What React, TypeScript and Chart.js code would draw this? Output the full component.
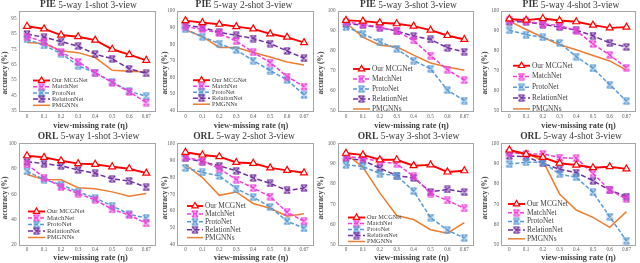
import React, { useEffect, useRef } from "react";
import { Chart, registerables } from "chart.js";

Chart.register(...registerables);

const FONT = '"Liberation Serif", "Times New Roman", "DejaVu Serif", serif';
Chart.defaults.font.family = FONT;

// ---------- data ----------
const categories = ["0", "0.1", "0.2", "0.3", "0.4", "0.5", "0.6", "0.67"];
const seriesLabels = ["Our MCGNet", "MatchNet", "ProtoNet", "RelationNet", "PMGNNs"];
const xAxisTitle = "view-missing rate (η)";
const yAxisTitle = "accuracy (%)";

const yTicks35 = [35, 45, 55, 65, 75, 85, 95];
const yTicks40 = [40, 50, 60, 70, 80, 90, 100];
const yTicks50 = [50, 60, 70, 80, 90, 100];
const yTicks20 = [20, 40, 60, 80, 100];

// PIE 5-way 1-shot
const pie1Ours = [90, 88.3, 84.3, 83.2, 81, 75, 71.5, 67.8];
const pie1Match = [83.3, 79.8, 73.2, 66.8, 59.8, 53.2, 47.2, 40.2];
const pie1Proto = [81.5, 77.5, 72.2, 64.3, 59.6, 53.8, 47.6, 44.3];
const pie1Relation = [85, 82.8, 80, 77, 71.8, 68.8, 62.2, 59.3];
const pie1Pmgnn = [79.5, 78.8, 74, 72.8, 69.6, 61.3, 60.7, 60.2];

// PIE 5-way 2-shot
const pie2Ours = [94.2, 93, 92, 90.6, 89.2, 86.2, 84.2, 80.9];
const pie2Match = [90.5, 89, 86.5, 81.8, 75.1, 68.9, 60.5, 54.4];
const pie2Proto = [89, 84.5, 80.3, 76.5, 70.1, 64.1, 58.5, 49.4];
const pie2Relation = [91.4, 90, 87.2, 85.3, 83.4, 80.4, 75.9, 71.5];
const pie2Pmgnn = [88.6, 84.5, 78, 78, 75, 72.3, 69.2, 67.5];

// PIE 5-way 3-shot
const pie3Ours = [95.3, 94.9, 94.1, 93.6, 92.4, 90.4, 87.7, 85.7];
const pie3Match = [94.6, 93.3, 91.9, 89.9, 85.2, 77.6, 70.5, 65.2];
const pie3Proto = [91.9, 88.6, 84.5, 81, 75.1, 71, 60.2, 55];
const pie3Relation = [93.6, 92.9, 91.6, 89.9, 87.4, 85.7, 81.5, 79.5];
const pie3Pmgnn = [94.1, 86.9, 82.8, 82, 77.8, 73.9, 71.9, 70.2];

// PIE 5-way 4-shot
const pie4Ours = [96, 95.4, 96.2, 95.2, 94.6, 92.9, 91.5, 91.9];
const pie4Match = [95.4, 94.9, 93.6, 92.7, 90.2, 83.4, 77.9, 71.5];
const pie4Proto = [90.3, 88.1, 86.8, 83.9, 77.1, 71.2, 63, 54.7];
const pie4Relation = [94.6, 94.6, 93.2, 91.9, 90.3, 87.6, 83.9, 81.9];
const pie4Pmgnn = [94.9, 90.7, 86.8, 83, 80.5, 77.6, 74.9, 70.3];

// ORL 5-way 1-shot
const orl1Ours = [90.2, 88.9, 86.3, 84, 83.5, 81.5, 80, 76.5];
const orl1Match = [83.5, 73, 65.5, 60.5, 55.5, 48, 43.5, 37];
const orl1Proto = [78, 71.5, 67.5, 61.8, 57, 50.8, 44.2, 41.2];
const orl1Relation = [85.5, 84, 82.3, 79, 76.4, 72, 70.4, 65.4];
const orl1Pmgnn = [75.5, 71.6, 71.3, 65, 64.2, 61.8, 58.3, 60.5];

// ORL 5-way 2-shot
const orl2Ours = [94.7, 93.1, 92.1, 88.7, 88.2, 85.5, 84, 82.6];
const orl2Match = [91.7, 89.7, 85.1, 78.6, 73.6, 68.6, 59.3, 54];
const orl2Proto = [85.5, 82.8, 80.8, 73.3, 68.2, 62.4, 54, 49.9];
const orl2Relation = [91.1, 89.1, 86.7, 83.8, 79.6, 76.3, 72.2, 73.6];
const orl2Pmgnn = [87.5, 79.8, 69.3, 71.3, 64.5, 61.7, 57, 58.5];

// ORL 5-way 3-shot
const orl3Ours = [95.1, 94.3, 91.9, 91.9, 89, 89.4, 85.9, 86.5];
const orl3Match = [93.5, 92.7, 91.1, 89.9, 83.8, 75.3, 71.9, 68];
const orl3Proto = [89.4, 88.6, 85.1, 84.1, 76.5, 63.5, 57.3, 53.4];
const orl3Relation = [92.7, 91.6, 87.8, 84.1, 83, 76.1, 77.3, 76];
const orl3Pmgnn = [94.8, 88.3, 75.6, 64.5, 62.5, 57.5, 55.8, 61];

// ORL 5-way 4-shot
const orl4Ours = [96.7, 94.6, 93.1, 90.2, 89.3, 88, 88.5, 87.4];
const orl4Match = [95.4, 94.8, 94.8, 93, 92.6, 85.2, 77, 72.6];
const orl4Proto = [89.8, 90.7, 90.7, 84.8, 83.3, 75.9, 63.9, 52.1];
const orl4Relation = [93.8, 93.4, 90.2, 87.2, 85.6, 81.6, 77, 73.8];
const orl4Pmgnn = [96.4, 95.1, 91.5, 75.1, 67.2, 63.6, 58.7, 66.4];

// ---------- layout & style ----------
const COLS = [
  { cx: 0, cw: 160, L: 18.5, R: 155, yTitleX: 5, xTitleX: 90.5, titleX: 88.5 },
  { cx: 158, cw: 160, L: 177, R: 312.5, yTitleX: 165.5, xTitleX: 251, titleX: 244 },
  { cx: 316, cw: 162, L: 337.5, R: 475.5, yTitleX: 321.5, xTitleX: 411.5, titleX: 408.5 },
  { cx: 478, cw: 162, L: 501, R: 637, yTitleX: 485, xTitleX: 578.5, titleX: 571 },
];
const ROWS = [
  { cy: 0, ch: 131, T: 11, B: 110.5, titleY: 5, tickY: 117, xTitleY: 125.5, yTitleY: 73 },
  { cy: 131, ch: 132, T: 143.3, B: 245, titleY: 136.7, tickY: 250, xTitleY: 257.5, yTitleY: 198 },
];

const STYLES = [
  { color: "#ff0000", width: 1.9, dash: [] as number[], marker: "triangle" },
  { color: "#ee3fdc", width: 1.5, dash: [4, 2], marker: "x" },
  { color: "#5b9bd5", width: 1.5, dash: [4, 2], marker: "x" },
  { color: "#7030a0", width: 1.5, dash: [5, 2.5], marker: "x" },
  { color: "#ed7d31", width: 1.5, dash: [] as number[], marker: "" },
];

const PANELS = [
  { name: "PIE", setting: "5-way 1-shot 3-view", col: 0, row: 0, yMin: 35, yMax: 100, yTicks: yTicks35,
    series: [pie1Ours, pie1Match, pie1Proto, pie1Relation, pie1Pmgnn],
    legend: { x0: 33, x1: 50, tx: 52, y0: 80.5, dy: 6.2 } },
  { name: "PIE", setting: "5-way 2-shot 3-view", col: 1, row: 0, yMin: 40, yMax: 100, yTicks: yTicks40,
    series: [pie2Ours, pie2Match, pie2Proto, pie2Relation, pie2Pmgnn],
    legend: { x0: 193, x1: 210, tx: 212, y0: 80.2, dy: 6 } },
  { name: "PIE", setting: "5-way 3-shot 3-view", col: 2, row: 0, yMin: 50, yMax: 100, yTicks: yTicks50,
    series: [pie3Ours, pie3Match, pie3Proto, pie3Relation, pie3Pmgnn],
    legend: { x0: 353, x1: 370, tx: 372, y0: 69, dy: 10 } },
  { name: "PIE", setting: "5-way 4-shot 3-view", col: 3, row: 0, yMin: 50, yMax: 100, yTicks: yTicks50,
    series: [pie4Ours, pie4Match, pie4Proto, pie4Relation, pie4Pmgnn],
    legend: { x0: 513, x1: 530, tx: 532, y0: 65.7, dy: 10.8 } },
  { name: "ORL", setting: "5-way 1-shot 3-view", col: 0, row: 1, yMin: 20, yMax: 100, yTicks: yTicks20,
    series: [orl1Ours, orl1Match, orl1Proto, orl1Relation, orl1Pmgnn],
    legend: { x0: 28, x1: 45, tx: 47, y0: 211.5, dy: 6.5 } },
  { name: "ORL", setting: "5-way 2-shot 3-view", col: 1, row: 1, yMin: 40, yMax: 100, yTicks: yTicks40,
    series: [orl2Ours, orl2Match, orl2Proto, orl2Relation, orl2Pmgnn],
    legend: { x0: 187, x1: 203, tx: 205, y0: 206, dy: 7.9 } },
  { name: "ORL", setting: "5-way 3-shot 3-view", col: 2, row: 1, yMin: 50, yMax: 100, yTicks: yTicks50,
    series: [orl3Ours, orl3Match, orl3Proto, orl3Relation, orl3Pmgnn],
    legend: { x0: 348, x1: 365, tx: 367, y0: 217.5, dy: 6 } },
  { name: "ORL", setting: "5-way 4-shot 3-view", col: 3, row: 1, yMin: 50, yMax: 100, yTicks: yTicks50,
    series: [orl4Ours, orl4Match, orl4Proto, orl4Relation, orl4Pmgnn],
    legend: { x0: 508, x1: 525, tx: 527, y0: 204, dy: 8.7 } },
];

function hexToRgba(hex: string, a: number) {
  const n = parseInt(hex.slice(1), 16);
  return `rgba(${(n >> 16) & 255},${(n >> 8) & 255},${n & 255},${a})`;
}

const markerCache: Record<string, HTMLCanvasElement> = {};
function xMarker(color: string) {
  if (markerCache[color]) return markerCache[color];
  const c = document.createElement("canvas");
  c.width = 8;
  c.height = 8;
  const g = c.getContext("2d")!;
  g.fillStyle = hexToRgba(color, 0.22);
  g.fillRect(0.5, 0.5, 7, 7);
  g.strokeStyle = color;
  g.lineWidth = 1.1;
  g.beginPath();
  g.moveTo(1, 1); g.lineTo(7, 7);
  g.moveTo(7, 1); g.lineTo(1, 7);
  g.moveTo(1, 1); g.lineTo(7, 1);
  g.moveTo(1, 7); g.lineTo(7, 7);
  g.stroke();
  markerCache[color] = c;
  return c;
}

function drawTriangle(ctx: CanvasRenderingContext2D, x: number, y: number, r: number, color: string) {
  ctx.save();
  ctx.beginPath();
  let rad = 0;
  ctx.moveTo(x + Math.sin(rad) * r, y - Math.cos(rad) * r);
  rad += (2 * Math.PI) / 3;
  ctx.lineTo(x + Math.sin(rad) * r, y - Math.cos(rad) * r);
  rad += (2 * Math.PI) / 3;
  ctx.lineTo(x + Math.sin(rad) * r, y - Math.cos(rad) * r);
  ctx.closePath();
  ctx.fillStyle = "#fff";
  ctx.fill();
  ctx.strokeStyle = color;
  ctx.lineWidth = 1.2;
  ctx.stroke();
  ctx.restore();
}

function Panel({ p }: { p: (typeof PANELS)[number] }) {
  const ref = useRef<HTMLCanvasElement | null>(null);
  const col = COLS[p.col];
  const row = ROWS[p.row];

  useEffect(() => {
    if (!ref.current) return;
    const cx = col.cx, cy = row.cy;
    const decor = {
      id: "decor",
      beforeDatasetsDraw(chart: any) {
        const { ctx, chartArea: a } = chart;
        ctx.save();
        ctx.strokeStyle = "#a6a6a6";
        ctx.lineWidth = 1;
        ctx.strokeRect(Math.round(a.left) + 0.5, Math.round(a.top) + 0.5,
          Math.round(a.right) - Math.round(a.left), Math.round(a.bottom) - Math.round(a.top));
        ctx.restore();
      },
      afterDraw(chart: any) {
        const ctx: CanvasRenderingContext2D = chart.ctx;
        ctx.save();
        // title (bold dataset name + regular setting)
        ctx.textBaseline = "middle";
        ctx.textAlign = "left";
        ctx.fillStyle = "#3a3a3a";
        ctx.font = `bold 9.5px ${FONT}`;
        const t1 = p.name;
        const w1 = ctx.measureText(t1).width;
        ctx.font = `9.5px ${FONT}`;
        const t2 = " " + p.setting;
        const w2 = ctx.measureText(t2).width;
        const sx = col.titleX - cx - (w1 + w2) / 2;
        ctx.font = `bold 9.5px ${FONT}`;
        ctx.fillText(t1, sx, row.titleY - cy);
        ctx.font = `9.5px ${FONT}`;
        ctx.fillText(t2, sx + w1, row.titleY - cy);

        // axis titles
        ctx.fillStyle = "#404040";
        ctx.font = `bold 8.3px ${FONT}`;
        ctx.textAlign = "center";
        ctx.fillText(xAxisTitle, col.xTitleX - cx, row.xTitleY - cy);
        ctx.save();
        ctx.translate(col.yTitleX - cx, row.yTitleY - cy);
        ctx.rotate(-Math.PI / 2);
        ctx.font = `bold 7.5px ${FONT}`;
        ctx.fillText(yAxisTitle, 0, 0);
        ctx.restore();

        // legend inside the plot
        const lg = p.legend;
        const fs = Math.min(7.4, lg.dy * 1.05);
        chart.data.datasets.forEach((ds: any, i: number) => {
          const st = STYLES[i];
          const y = lg.y0 + i * lg.dy - cy;
          ctx.save();
          ctx.strokeStyle = st.color;
          ctx.lineWidth = st.width;
          ctx.setLineDash(st.dash);
          ctx.beginPath();
          ctx.moveTo(lg.x0 - cx, y);
          ctx.lineTo(lg.x1 - cx, y);
          ctx.stroke();
          ctx.restore();
          const mx = (lg.x0 + lg.x1) / 2 - cx;
          if (st.marker === "triangle") drawTriangle(ctx, mx, y, 3.6, st.color);
          else if (st.marker === "x") {
            const m = xMarker(st.color);
            ctx.drawImage(m, mx - m.width / 2, y - m.height / 2);
          }
          ctx.fillStyle = "#404040";
          ctx.font = `${fs}px ${FONT}`;
          ctx.textAlign = "left";
          ctx.textBaseline = "middle";
          ctx.fillText(ds.label, lg.tx - cx, y);
        });
        ctx.restore();
      },
    };

    const datasets = p.series.map((data, i) => {
      const st = STYLES[i];
      return {
        label: seriesLabels[i],
        data,
        borderColor: st.color,
        backgroundColor: st.color,
        borderWidth: st.width,
        borderDash: st.dash,
        fill: false,
        tension: 0,
        pointStyle: st.marker === "triangle" ? "triangle" : st.marker === "x" ? xMarker(st.color) : "circle",
        pointRadius: st.marker ? 4 : 0,
        pointHoverRadius: st.marker ? 4 : 0,
        pointBackgroundColor: "#ffffff",
        pointBorderColor: st.color,
        pointBorderWidth: 1.2,
      };
    });

    const chart = new Chart(ref.current, {
      type: "line",
      data: { labels: categories, datasets: datasets as any },
      options: {
        responsive: false,
        animation: false,
        events: [],
        layout: {
          padding: { left: 0, right: cx + col.cw - col.R, top: row.T - cy, bottom: 0 },
        },
        plugins: {
          legend: { display: false },
          title: { display: false },
          tooltip: { enabled: false },
        },
        scales: {
          x: {
            type: "category",
            offset: true,
            grid: { display: false, drawTicks: false },
            border: { display: false },
            ticks: {
              autoSkip: false,
              maxRotation: 0,
              minRotation: 0,
              color: "#595959",
              font: { size: 5.2, lineHeight: 1.2 },
              padding: row.tickY - row.B - 3.1,
            },
            afterFit: (s: any) => {
              s.height = cy + row.ch - row.B;
            },
          },
          y: {
            min: p.yMin,
            max: p.yMax,
            grid: { display: false, drawTicks: false },
            border: { display: false },
            afterBuildTicks: (s: any) => {
              s.ticks = p.yTicks.map((v) => ({ value: v }));
            },
            ticks: {
              color: "#595959",
              font: { size: 5.2, lineHeight: 1.2 },
              padding: 2,
            },
            afterFit: (s: any) => {
              s.width = col.L - cx;
            },
          },
        },
      },
      plugins: [decor],
    } as any);
    return () => chart.destroy();
  }, [p]);

  return (
    <canvas
      ref={ref}
      width={col.cw}
      height={row.ch}
      style={{ position: "absolute", left: col.cx, top: row.cy, width: col.cw, height: row.ch }}
    />
  );
}

export default function App() {
  return (
    <div
      style={{
        position: "absolute",
        left: 0,
        top: 0,
        width: 640,
        height: 263,
        background: "#ffffff",
        overflow: "hidden",
      }}
    >
      {PANELS.map((p, i) => (
        <Panel key={i} p={p} />
      ))}
    </div>
  );
}
